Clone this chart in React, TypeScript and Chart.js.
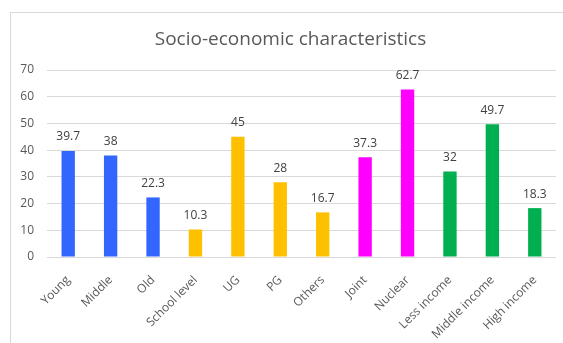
import React, { useEffect, useRef } from "react";
import { Chart, registerables } from "chart.js";

Chart.register(...registerables);

const TITLE = "Socio-economic characteristics";
const categories = [
  "Young", "Middle", "Old", "School level", "UG", "PG", "Others",
  "Joint", "Nuclear", "Less income", "Middle income", "High income",
];
const values = [39.7, 38, 22.3, 10.3, 45, 28, 16.7, 37.3, 62.7, 32, 49.7, 18.3];
const BLUE = "#3366FF";
const YELLOW = "#FFC000";
const MAGENTA = "#FF00FF";
const GREEN = "#00B050";
const barColors = [
  BLUE, BLUE, BLUE,
  YELLOW, YELLOW, YELLOW, YELLOW,
  MAGENTA, MAGENTA,
  GREEN, GREEN, GREEN,
];
const yMin = 0;
const yMax = 70;
const yStep = 10;

const FONT = "'Open Sans', sans-serif";

const valueLabels = {
  id: "valueLabels",
  afterDatasetsDraw(chart: any) {
    const { ctx } = chart;
    const meta = chart.getDatasetMeta(0);
    ctx.save();
    ctx.font = `12px ${FONT}`;
    ctx.fillStyle = "#404040";
    ctx.textAlign = "center";
    ctx.textBaseline = "middle";
    meta.data.forEach((bar: any, i: number) => {
      const v = chart.data.datasets[0].data[i];
      ctx.fillText(String(v), bar.x, bar.y - 14);
    });
    ctx.restore();
  },
};

const titleDraw = {
  id: "titleDraw",
  afterDraw(chart: any) {
    const { ctx } = chart;
    ctx.save();
    ctx.font = `19px ${FONT}`;
    ctx.fillStyle = "#595959";
    ctx.textAlign = "center";
    ctx.textBaseline = "middle";
    ctx.fillText(TITLE, 290.5, 40);
    ctx.restore();
  },
};

export default function App() {
  const ref = useRef<HTMLCanvasElement | null>(null);
  useEffect(() => {
    if (!ref.current) return;
    const chart = new Chart(ref.current, {
      type: "bar",
      data: {
        labels: categories,
        datasets: [
          {
            data: values,
            backgroundColor: barColors,
            categoryPercentage: 1,
            barPercentage: 0.315,
          },
        ],
      },
      options: {
        responsive: false,
        animation: false,
        layout: { padding: { left: 0, right: 7, top: 70, bottom: 0 } },
        plugins: {
          legend: { display: false },
          tooltip: { enabled: false },
          title: { display: false },
        },
        scales: {
          x: {
            grid: { display: false },
            border: { display: false },
            ticks: {
              autoSkip: false,
              maxRotation: 45,
              minRotation: 45,
              color: "#595959",
              font: { family: FONT, size: 12 },
              padding: 8,
            },
            afterFit: (s: any) => {
              s.height = 86;
            },
          },
          y: {
            min: yMin,
            max: yMax,
            ticks: {
              stepSize: yStep,
              color: "#595959",
              font: { family: FONT, size: 12 },
              padding: 13,
            },
            grid: { color: "#D9D9D9", drawTicks: false },
            border: { display: false },
            afterFit: (s: any) => {
              s.width = 47;
            },
          },
        },
      },
      plugins: [valueLabels, titleDraw],
    });
    return () => chart.destroy();
  }, []);

  return (
    <div
      style={{
        position: "fixed",
        left: 0,
        top: 0,
        width: 563,
        height: 343,
        overflow: "hidden",
        background: "#fff",
      }}
    >
      <div
        style={{
          position: "absolute",
          left: 10,
          top: 12,
          width: 700,
          height: 500,
          borderLeft: "1px solid #D9D9D9",
          borderTop: "1px solid #D9D9D9",
        }}
      />
      <canvas
        ref={ref}
        width={563}
        height={343}
        style={{ position: "absolute", left: 0, top: 0 }}
      />
    </div>
  );
}
